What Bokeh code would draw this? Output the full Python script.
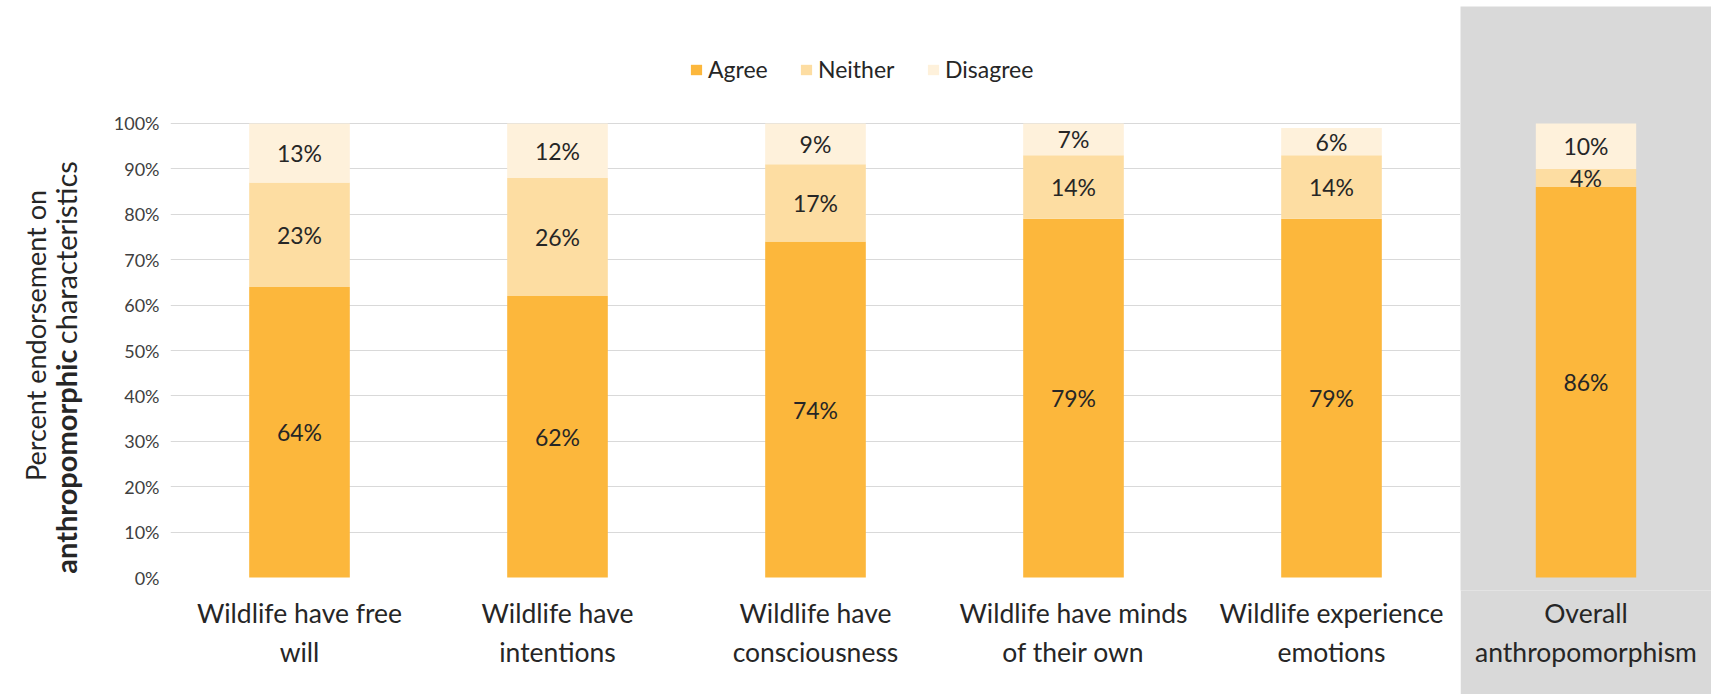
import math
from bokeh.plotting import figure
from bokeh.layouts import row
from bokeh.models import (ColumnDataSource, FactorRange, Range1d, Label, Legend, LegendItem,
                          FixedTicker, CustomJSTickFormatter)
from bokeh.embed import file_html
from bokeh.resources import INLINE

categories = ["Wildlife have free\nwill", "Wildlife have\nintentions", "Wildlife have\nconsciousness",
              "Wildlife have minds\nof their own", "Wildlife experience\nemotions", "Overall\nanthropomorphism"]
agree = [64, 62, 74, 79, 79, 86]
neither = [23, 26, 17, 14, 14, 4]
disagree = [13, 12, 9, 7, 6, 10]
series_names = ["Agree", "Neither", "Disagree"]
colors = ["#FCB73C", "#FDDDA2", "#FEF1DB"]
y_ticks = [0, 10, 20, 30, 40, 50, 60, 70, 80, 90, 100]
y_title_line1 = "Percent endorsement on"
y_title_bold = "anthropomorphic"
y_title_rest = "characteristics"

FONT = "Lato"
TEXT = "#262626"
PANEL_GRAY = "#D9D9D9"
H = 688
BOTTOM = 104
y_range = Range1d(-2.86, 125.77)  # frame spans a little beyond 0..100 for legend and title room


def style_x_axis(fig):
    fig.xaxis.axis_line_color = None
    fig.xaxis.major_tick_line_color = None
    fig.xaxis.minor_tick_line_color = None
    fig.xaxis.major_label_text_font = FONT
    fig.xaxis.major_label_text_font_size = "26.5px"
    fig.xaxis.major_label_text_color = TEXT
    fig.xaxis.major_label_standoff = 0
    fig.xaxis.major_label_text_line_height = 1.24


def add_stack(fig, idx, width):
    src = ColumnDataSource(dict(cat=[categories[i] for i in idx],
                                agree=[agree[i] for i in idx],
                                neither=[neither[i] for i in idx],
                                disagree=[disagree[i] for i in idx]))
    rs = fig.vbar_stack(["agree", "neither", "disagree"], x="cat", width=width, source=src,
                        color=colors, line_color=None)
    for j, i in enumerate(idx):
        base = 0
        for vals in (agree, neither, disagree):
            v = vals[i]
            fig.add_layout(Label(x=j + 0.5, y=base + v / 2, text=f"{v}%", text_align="center",
                                 text_baseline="middle", text_font=FONT, text_font_size="23px",
                                 text_color=TEXT))
            base += v
    return rs


# ---- y-axis title panel (same vertical frame as the charts) ----
pa = figure(width=92, height=H, x_range=Range1d(0, 92), y_range=y_range,
            output_backend="svg", toolbar_location=None, min_border_left=0, min_border_right=0,
            min_border_top=0, min_border_bottom=BOTTOM, x_axis_location=None, y_axis_location=None)
pa.outline_line_color = None
pa.grid.visible = False
pa.add_layout(Label(x=27, y=53.3, text=y_title_line1, angle=math.pi / 2, text_align="center",
                    text_baseline="middle", text_font=FONT, text_font_size="27px", text_color=TEXT))
pa.add_layout(Label(x=57, y=50.2, text=y_title_bold, angle=math.pi / 2, text_align="right",
                    text_baseline="middle", text_font=FONT, text_font_size="29px",
                    text_font_style="bold", text_color=TEXT))
pa.add_layout(Label(x=57, y=51.4, text=y_title_rest, angle=math.pi / 2, text_align="left",
                    text_baseline="middle", text_font=FONT, text_font_size="29px", text_color=TEXT))

# ---- main chart ----
main_idx = [0, 1, 2, 3, 4]
pb = figure(x_range=FactorRange(*[categories[i] for i in main_idx], range_padding=0), y_range=y_range,
            width=1360, height=H, output_backend="svg", toolbar_location=None,
            min_border_left=70, min_border_right=0, min_border_top=0, min_border_bottom=BOTTOM)
pb.outline_line_color = None
stack = add_stack(pb, main_idx, 0.39)

pb.yaxis.ticker = FixedTicker(ticks=y_ticks)
pb.yaxis.formatter = CustomJSTickFormatter(code="return tick + '%'")
pb.yaxis.axis_line_color = None
pb.yaxis.major_tick_line_color = None
pb.yaxis.minor_tick_line_color = None
pb.yaxis.major_label_text_font = FONT
pb.yaxis.major_label_text_font_size = "18px"
pb.yaxis.major_label_text_color = "#404040"
pb.yaxis.major_label_standoff = 5
style_x_axis(pb)
pb.xgrid.grid_line_color = None
pb.ygrid.ticker = FixedTicker(ticks=y_ticks[1:])
pb.ygrid.grid_line_color = "#D9D9D9"
pb.ygrid.grid_line_width = 1.2

legend_x = [519, 629, 756]
for name, r, lx in zip(series_names, stack, legend_x):
    pb.add_layout(Legend(items=[LegendItem(label=name, renderers=[r])],
                         orientation="horizontal", location=(lx, 507), border_line_color=None,
                         background_fill_alpha=0, label_text_font=FONT, label_text_font_size="23px",
                         label_text_color=TEXT, glyph_width=14, glyph_height=13, label_standoff=5,
                         spacing=0, padding=0, margin=0))

# ---- highlighted "overall" panel ----
overall_idx = [5]
pc = figure(x_range=FactorRange(*[categories[i] for i in overall_idx], range_padding=0), y_range=y_range,
            width=251, height=H, output_backend="svg", toolbar_location=None,
            min_border_left=0, min_border_right=0, min_border_top=0, min_border_bottom=BOTTOM,
            y_axis_location=None)
pc.outline_line_color = None
pc.background_fill_color = PANEL_GRAY
pc.border_fill_color = PANEL_GRAY
pc.grid.visible = False
add_stack(pc, overall_idx, 0.40)
style_x_axis(pc)

layout = row(pa, pb, pc, spacing=0, margin=(6, 0, 0, 8))
open("out.html", "w").write(file_html(layout, INLINE))
